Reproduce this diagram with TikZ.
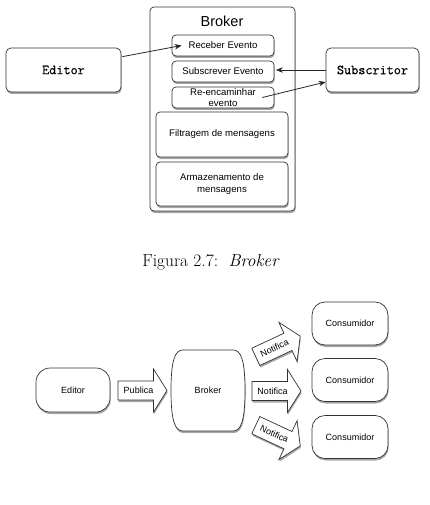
\documentclass[tikz,border=0pt]{standalone}
\usepackage{fontspec}
\newfontfamily\helv[Ligatures=NoCommon]{Liberation Sans}
\newfontfamily\typew[FakeBold=0.6]{Latin Modern Mono}
\usetikzlibrary{shadows,arrows.meta,calc}
\tikzset{
  shad/.style={drop shadow={shadow xshift=0.6pt, shadow yshift=-2pt, opacity=0.35, fill=black}},
  box/.style={draw=black!80, line width=0.7pt, fill=white, rounded corners=4pt, shad, inner sep=0pt, align=center},
  small/.style={font=\helv\fontsize{9.6}{11.5}\selectfont},
  mono/.style={font=\typew\fontsize{13.8}{16}\selectfont},
  pill/.style={draw=black!80, line width=0.7pt, fill=white, rounded corners=13pt, shad, inner sep=0pt, font=\helv\fontsize{9}{11}\selectfont},
  fat/.style={draw=black!80, line width=0.7pt, fill=white, shad},
  arrowtext/.style={font=\helv\fontsize{9}{11}\selectfont, inner sep=0pt, transform shape},
  conn/.style={line width=0.8pt, draw=black!85, -{Stealth[length=7pt,width=5.5pt]}}
}
\newcommand\fatarrow[5]{%
  \begin{scope}[shift={(#1,#2)},rotate=#3]
    \filldraw[fat] (-24.5,-9.5) -- (11,-9.5) -- (11,-21.5) -- (24.5,0) -- (11,21.5) -- (11,9.5) -- (-24.5,9.5) -- cycle;
    \node[arrowtext] (#5) at (-4,0) {#4};
  \end{scope}}
\begin{document}
\begin{tikzpicture}[x=1pt,y=-1pt]
\useasboundingbox (0,0) rectangle (430,505);
% ---- top figure ----
\node[box, minimum width=145pt, minimum height=204pt] (brokerbox) at (222.5,109) {};
\node[font=\helv\fontsize{14.5}{16}\selectfont] (brokertitle) at (222,21) {Broker};
\node[box, small, minimum width=102pt, minimum height=21pt] (receber) at (223,45.5) {Receber Evento};
\node[box, small, minimum width=102pt, minimum height=21pt] (subscrever) at (223,71.5) {Subscrever Evento};
\node[box, small, minimum width=102pt, minimum height=21pt] (reenc) at (223,97.5) {Re-encaminhar\\evento};
\node[box, small, minimum width=132pt, minimum height=45pt] (filtr) at (222,134.5) {Filtragem de mensagens};
\node[box, small, minimum width=132pt, minimum height=44pt] (armaz) at (222,184) {Armazenamento de\\mensagens};
\node[box, mono, rounded corners=5pt, minimum width=115pt, minimum height=44pt] (editor) at (63.5,70) {Editor};
\node[box, mono, rounded corners=5pt, minimum width=93pt, minimum height=44pt] (subscritor) at (372.5,70) {Subscritor};
\draw[conn] ($(editor.north east)+(1,9)$) -- ($(receber.west)+(10,0)$);
\draw[conn] (subscritor.west) -- ($(subscrever.east)+(1.5,-1.5)$);
\draw[conn] ($(reenc.east)+(-12,0)$) -- ($(subscritor.west)+(0,12)$);
% caption
\node[font=\fontsize{17.4}{20}\selectfont] (caption) at (211,262) {Figura 2.7:\ \ \textit{Broker}};
% ---- bottom figure ----
\node[pill, minimum width=74pt, minimum height=44pt, rounded corners=14pt] (ed2) at (73,390) {Editor};
\filldraw[fat] (183,350) -- (233,350) .. controls (241,350) and (245,360) .. (245,390.5)
  .. controls (245,421) and (241,431) .. (233,431) -- (183,431)
  .. controls (175,431) and (171,421) .. (171,390.5)
  .. controls (171,360) and (175,350) .. (183,350) -- cycle;
\node[font=\helv\fontsize{9}{11}\selectfont] (br2) at (208,390.5) {Broker};
\node[pill, minimum width=76pt, minimum height=43pt] (c1) at (350,323.5) {Consumidor};
\node[pill, minimum width=76pt, minimum height=43pt] (c2) at (350,380) {Consumidor};
\node[pill, minimum width=76pt, minimum height=43pt] (c3) at (350,437) {Consumidor};
\fatarrow{142.5}{390.5}{0}{Publica}{pub}
\fatarrow{276.5}{391}{0}{Notifica}{n2}
\fatarrow{278}{346.5}{25}{Notifica}{n1}
\fatarrow{278}{435.5}{-25}{Notifica}{n3}
\end{tikzpicture}
\end{document}
